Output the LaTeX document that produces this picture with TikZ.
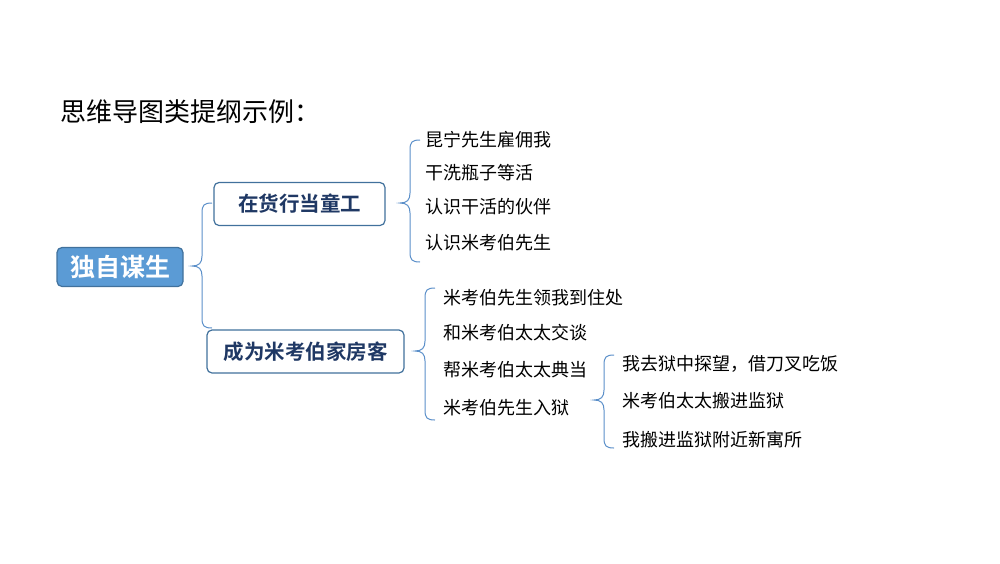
\documentclass[tikz,border=0pt]{standalone}
\usepackage{fontspec}
\setmainfont{Noto Sans CJK SC}
\newfontfamily\cjkb{Noto Sans CJK SC Bold}
\begin{document}
\begin{tikzpicture}[x=1pt,y=-1pt,
  leaf/.style={anchor=west,inner sep=0pt,font=\fontsize{18}{18}\selectfont},
  box/.style={draw=boxline,line width=1.2pt,rounded corners=5pt,fill=white,font=\cjkb\fontsize{20.5}{20.5}\selectfont,text=titleblue},
  br/.style={draw=braceblue,line width=1pt}]
\definecolor{boxline}{HTML}{41719C}
\definecolor{rootfill}{HTML}{5B9BD5}
\definecolor{titleblue}{HTML}{1F3864}
\definecolor{braceblue}{HTML}{5B8FC9}
\useasboundingbox (0,0) rectangle (1000,563);
\newcommand{\mybrace}[4]{% x, top, mid, bottom
  \draw[br] (#1+10,#2) .. controls (#1+2,#2) and (#1,#2+2) .. (#1,#2+10)
    -- (#1,#3-10) .. controls (#1,#3-3) and (#1-3,#3) .. (#1-10,#3)
    .. controls (#1-3,#3) and (#1,#3+3) .. (#1,#3+10)
    -- (#1,#4-10) .. controls (#1,#4-2) and (#1+2,#4) .. (#1+10,#4);}
\node[anchor=west,inner sep=0pt,font=\fontsize{26}{26}\selectfont] (title) at (60,112) {思维导图类提纲示例：};
\node[draw=boxline,line width=1.2pt,fill=rootfill,rounded corners=5pt,text=white,font=\cjkb\fontsize{25}{25}\selectfont,minimum width=126pt,minimum height=39pt] (root) at (120,267) {独自谋生};
\node[box,minimum width=171pt,minimum height=43pt] (b1) at (299.5,204) {在货行当童工};
\node[box,minimum width=197pt,minimum height=43pt] (b2) at (305.5,351.5) {成为米考伯家房客};
\mybrace{202}{203}{266}{328}
\mybrace{410}{140}{203}{262}
\mybrace{425}{288}{351}{420}
\mybrace{604}{355}{400}{448}
\node[leaf] (l1) at (425,140) {昆宁先生雇佣我};
\node[leaf] (l2) at (425,173) {干洗瓶子等活};
\node[leaf] (l3) at (425,207) {认识干活的伙伴};
\node[leaf] (l4) at (425,243) {认识米考伯先生};
\node[leaf] (m1) at (443,298) {米考伯先生领我到住处};
\node[leaf] (m2) at (443,333) {和米考伯太太交谈};
\node[leaf] (m3) at (443,370) {帮米考伯太太典当};
\node[leaf] (m4) at (443,408) {米考伯先生入狱};
\node[leaf] (n1) at (622,364) {我去狱中探望，借刀叉吃饭};
\node[leaf] (n2) at (622,401) {米考伯太太搬进监狱};
\node[leaf] (n3) at (622,440) {我搬进监狱附近新寓所};
\end{tikzpicture}
\end{document}
